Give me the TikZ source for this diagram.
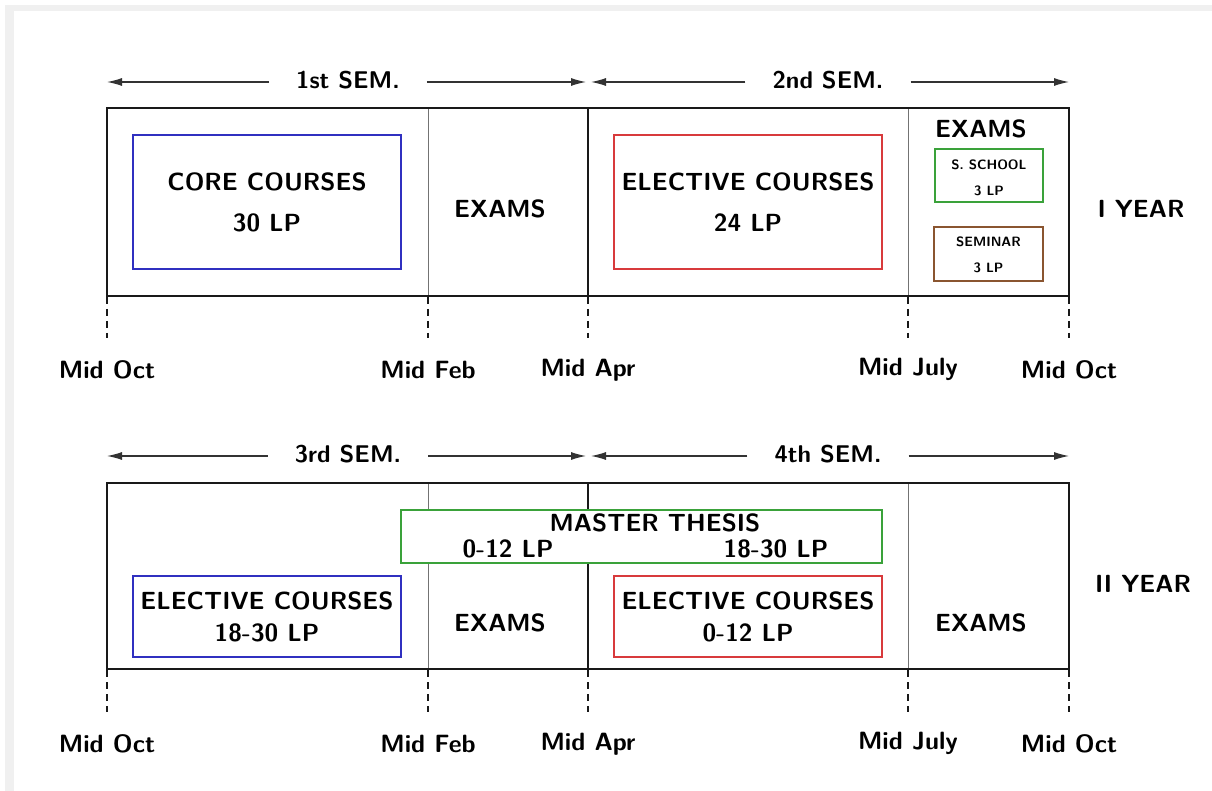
\documentclass[tikz,border=0pt]{standalone}
\usepackage{fontspec}
\usetikzlibrary{arrows.meta}
\definecolor{frameg}{HTML}{F0F0F0}
\definecolor{bblue}{HTML}{3030C0}
\definecolor{bred}{HTML}{D83A3C}
\definecolor{bgreen}{HTML}{3AA23A}
\definecolor{bbrown}{HTML}{8A5530}
\definecolor{arrg}{HTML}{333333}
\tikzset{
  txt/.style={font=\sffamily\bfseries\fontsize{24.8}{28}\selectfont, inner sep=0pt},
  semlab/.style={font=\sffamily\bfseries\fontsize{24.2}{28}\selectfont, inner ysep=0pt, inner xsep=27pt},
  datelab/.style={font=\sffamily\bfseries\fontsize{25}{28}\selectfont, inner sep=0pt},
  yearlab/.style={font=\sffamily\bfseries\fontsize{24.8}{28}\selectfont, inner sep=0pt},
  tinylab/.style={font=\sffamily\bfseries\fontsize{13.5}{26}\selectfont, inner sep=0pt, align=center},
  semarrow/.style={-{Latex[length=15pt,width=8pt]}, line width=1.2pt, draw=arrg},
  yearframe/.style={line width=2.6pt, draw=black!90},
  thinsep/.style={line width=1pt, draw=black!55},
  thicksep/.style={line width=2.2pt, draw=black!90},
  tick/.style={line width=2.2pt, draw=black!90, dash pattern=on 7pt off 5pt},
  cbox/.style={draw=#1, line width=2pt, inner sep=0pt, align=center,
     font=\sffamily\bfseries\fontsize{24.8}{41}\selectfont},
}
\begin{document}
\begin{tikzpicture}[x=1pt,y=-1pt]
\useasboundingbox (0,0) rectangle (1212,791);
\fill[frameg] (5,5) rectangle (1212,791);
\fill[white] (14,11) rectangle (1212,791);

% ---------- YEAR I ----------
\node[semlab] (s1) at (348,80) {1st SEM.};
\node[semlab] (s2) at (828,80) {2nd SEM.};
\coordinate (a1l) at (107,82);
\coordinate (a1r) at (586,82);
\coordinate (a2l) at (591,82);
\coordinate (a2r) at (1069,82);
\draw[semarrow] (s1.west|-a1l) -- (a1l);
\draw[semarrow] (s1.east|-a1l) -- (a1r);
\draw[semarrow] (s2.west|-a1l) -- (a2l);
\draw[semarrow] (s2.east|-a1l) -- (a2r);

\draw[thinsep] (428,108) -- (428,296);
\draw[thinsep] (908,108) -- (908,296);
\draw[thicksep] (588,108) -- (588,296);
\draw[yearframe] (107,108) rectangle (1069,296);

\foreach \x in {107,428,588,908,1069} \draw[tick] (\x,297) -- (\x,338);
\node[datelab] (d11) at (107,370) {Mid Oct};
\node[datelab] (d12) at (428,370) {Mid Feb};
\node[datelab] (d13) at (588,370) {Mid Apr};
\node[datelab] (d14) at (908,369) {Mid July};
\node[datelab] (d15) at (1069,370) {Mid Oct};

\node[cbox=bblue, minimum width=268pt, minimum height=134pt] (core) at (267,202) {CORE COURSES\\30 LP};
\node[txt] (ex1) at (500,209) {EXAMS};
\node[cbox=bred, minimum width=268pt, minimum height=134pt] (el1) at (748,202) {ELECTIVE COURSES\\24 LP};
\node[txt] (ex2) at (981,129) {EXAMS};
\node[draw=bgreen, line width=2pt, minimum width=108pt, minimum height=53pt, inner sep=0pt] (ss) at (989,175.5) {};
\node[tinylab] (sst) at (989,178) {S. SCHOOL\\3 LP};
\node[draw=bbrown, line width=2pt, minimum width=109pt, minimum height=54pt, inner sep=0pt] (sem) at (988.5,254) {};
\node[tinylab] (semt) at (988.5,255) {SEMINAR\\3 LP};
\node[yearlab] (y1) at (1141,209) {I YEAR};

% ---------- YEAR II ----------
\node[semlab] (s3) at (348,454) {3rd SEM.};
\node[semlab] (s4) at (828,454) {4th SEM.};
\coordinate (a3l) at (107,456);
\coordinate (a3r) at (586,456);
\coordinate (a4l) at (591,456);
\coordinate (a4r) at (1069,456);
\draw[semarrow] (s3.west|-a3l) -- (a3l);
\draw[semarrow] (s3.east|-a3l) -- (a3r);
\draw[semarrow] (s4.west|-a3l) -- (a4l);
\draw[semarrow] (s4.east|-a3l) -- (a4r);

\draw[thinsep] (428,483) -- (428,669);
\draw[thinsep] (908,483) -- (908,669);
\draw[thicksep] (588,483) -- (588,669);
\draw[yearframe] (107,483) rectangle (1069,669);

\foreach \x in {107,428,588,908,1069} \draw[tick] (\x,670) -- (\x,712);
\node[datelab] (d21) at (107,744) {Mid Oct};
\node[datelab] (d22) at (428,744) {Mid Feb};
\node[datelab] (d23) at (588,744) {Mid Apr};
\node[datelab] (d24) at (908,743) {Mid July};
\node[datelab] (d25) at (1069,744) {Mid Oct};

\node[draw=bgreen, line width=2pt, fill=white, minimum width=481pt, minimum height=53pt, inner sep=0pt] (mt) at (641.5,536.5) {};
\node[txt] (mtt) at (655,523) {MASTER THESIS};
\node[txt] (mt1) at (508,549) {0-12 LP};
\node[txt] (mt2) at (776,549) {18-30 LP};

\node[cbox=bblue, minimum width=268pt, minimum height=81pt, font=\sffamily\bfseries\fontsize{24.8}{32}\selectfont] (el2) at (267,616.5) {ELECTIVE COURSES\\18-30 LP};
\node[txt] (ex3) at (500,623) {EXAMS};
\node[cbox=bred, minimum width=268pt, minimum height=81pt, font=\sffamily\bfseries\fontsize{24.8}{32}\selectfont] (el3) at (748,616.5) {ELECTIVE COURSES\\0-12 LP};
\node[txt] (ex4) at (981,623) {EXAMS};
\node[yearlab] (y2) at (1143,584) {II YEAR};
\end{tikzpicture}
\end{document}
